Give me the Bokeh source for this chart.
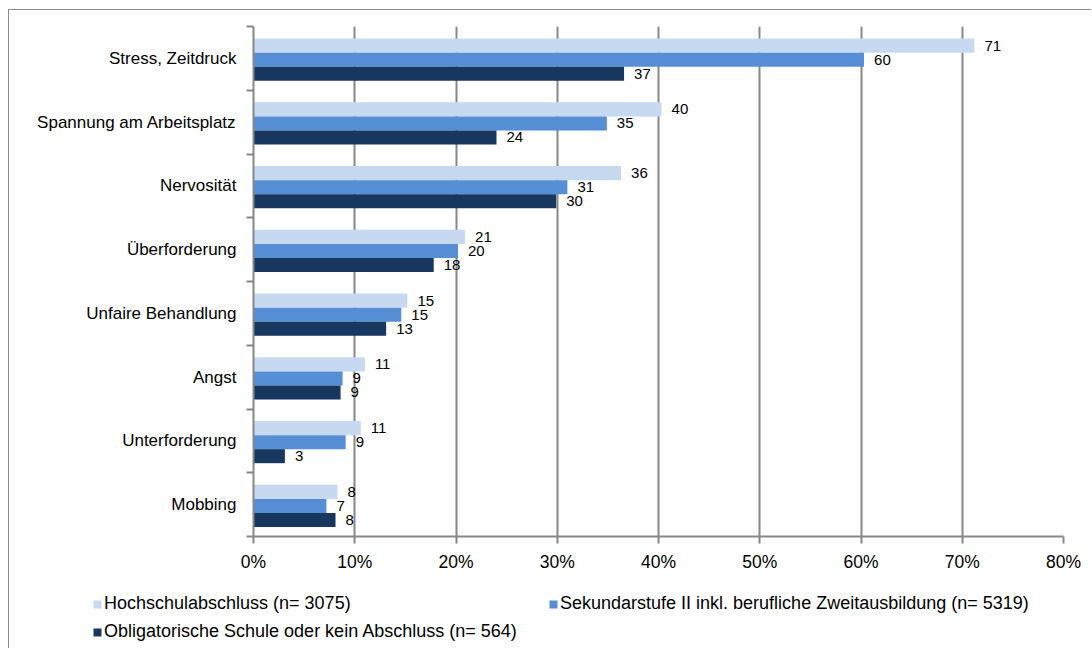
from bokeh.plotting import figure
from bokeh.models import Range1d, FixedTicker, Legend, LegendItem, ColumnDataSource
from bokeh.core.properties import value
from bokeh.embed import file_html
from bokeh.resources import INLINE

categories = ["Stress, Zeitdruck", "Spannung am Arbeitsplatz", "Nervosität", "Überforderung",
              "Unfaire Behandlung", "Angst", "Unterforderung", "Mobbing"]
series_names = ["Hochschulabschluss (n= 3075)",
                "Sekundarstufe II inkl. berufliche Zweitausbildung (n= 5319)",
                "Obligatorische Schule oder kein Abschluss (n= 564)"]
hochschule = [71.2, 40.3, 36.3, 20.9, 15.2, 11.0, 10.6, 8.3]
sekundar = [60.3, 34.9, 31.0, 20.2, 14.6, 8.8, 9.1, 7.2]
obligatorisch = [36.6, 24.0, 29.9, 17.8, 13.1, 8.6, 3.1, 8.1]
x_ticks = [0, 10, 20, 30, 40, 50, 60, 70, 80]
x_tick_labels = ["0%", "10%", "20%", "30%", "40%", "50%", "60%", "70%", "80%"]

colors = ["#C6D9F1", "#558ED5", "#17375E"]
offsets = [0.2, -0.02, -0.24]
FONT = "Liberation Sans"
GRAY = "#878787"
BORDER = "1px solid #8c8c8c"

n = len(categories)
centers = [n - i - 0.5 for i in range(n)]

p = figure(width=1083, height=576, x_range=Range1d(0, 80), y_range=Range1d(0, n),
           output_backend="svg", toolbar_location=None,
           min_border_left=244, min_border_right=29, min_border_top=16, min_border_bottom=50)
p.outline_line_color = None
p.background_fill_color = "white"
p.border_fill_color = "white"
p.styles = {"border-top": BORDER, "border-left": BORDER,
            "margin-left": "8px", "margin-top": "9px"}

# x axis
p.xaxis.ticker = FixedTicker(ticks=x_ticks)
p.xaxis.major_label_overrides = {t: l for t, l in zip(x_ticks, x_tick_labels)}
p.xaxis.axis_line_color = GRAY
p.xaxis.axis_line_width = 2
p.xaxis.major_tick_line_color = GRAY
p.xaxis.major_tick_line_width = 2
p.xaxis.major_tick_out = 7
p.xaxis.major_tick_in = 0
p.xaxis.minor_tick_line_color = None
p.xaxis.major_label_standoff = 8
p.xaxis.major_label_text_font = FONT
p.xaxis.major_label_text_font_size = "17.5px"
p.xaxis.major_label_text_color = "black"

# y axis: labels at centers, ticks at boundaries
p.yaxis.ticker = FixedTicker(ticks=centers, minor_ticks=list(range(n + 1)))
p.yaxis.major_label_overrides = {c: cat for c, cat in zip(centers, categories)}
p.yaxis.axis_line_color = GRAY
p.yaxis.axis_line_width = 2
p.yaxis.major_tick_line_color = None
p.yaxis.major_tick_out = 0
p.yaxis.major_tick_in = 0
p.yaxis.minor_tick_line_color = GRAY
p.yaxis.minor_tick_line_width = 2
p.yaxis.minor_tick_out = 7
p.yaxis.minor_tick_in = 0
p.yaxis.major_label_standoff = 10
p.yaxis.major_label_text_font = FONT
p.yaxis.major_label_text_font_size = "17px"
p.yaxis.major_label_text_color = "black"

p.xgrid.ticker = FixedTicker(ticks=x_ticks)
p.xgrid.grid_line_color = GRAY
p.xgrid.grid_line_width = 2
p.ygrid.grid_line_color = None

sources = []
for vals, col, off in zip([hochschule, sekundar, obligatorisch], colors, offsets):
    src = ColumnDataSource(dict(
        y=[c + off for c in centers],
        v=vals,
        lab=[f"{v:.0f}" for v in vals],
    ))
    sources.append(src)
    p.hbar(y="y", left=0, right="v", height=0.22, source=src,
           fill_color=col, line_color=None)
    p.text(x="v", y="y", text="lab", source=src, x_offset=10,
           text_baseline="middle", text_align="left",
           text_font=value(FONT), text_font_size="15px", text_color="black")

# legend strip below the chart (separate root, so its frame spans the full width)
p2 = figure(width=1083, height=63, x_range=Range1d(0, 80), y_range=Range1d(100, 101),
            output_backend="svg", toolbar_location=None,
            x_axis_type=None, y_axis_type=None,
            min_border_left=0, min_border_right=0, min_border_top=0, min_border_bottom=0)
p2.outline_line_color = None
p2.grid.grid_line_color = None
p2.styles = {"border-left": BORDER, "margin-left": "8px"}

legend_locs = [(83, 34), (539, 34), (83, 6)]
for name, col, src, loc in zip(series_names, colors, sources, legend_locs):
    # same series drawn in the legend strip (outside its visible range) to provide the key glyph
    r = p2.hbar(y="y", left=0, right="v", height=0.22, source=src,
                fill_color=col, line_color=None)
    lg = Legend(items=[LegendItem(label=name, renderers=[r])], location=loc,
                padding=0, margin=0, spacing=0, border_line_color=None,
                background_fill_alpha=0, glyph_width=10, glyph_height=10,
                label_standoff=2, label_text_font=FONT, label_text_font_size="18px",
                label_text_color="black")
    p2.add_layout(lg, "center")

open("out.html", "w").write(file_html([p, p2], INLINE))
